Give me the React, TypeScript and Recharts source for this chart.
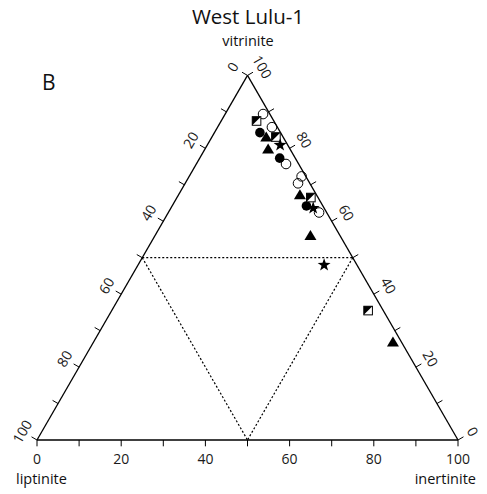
import {
  ScatterChart,
  Scatter,
  XAxis,
  YAxis,
  ReferenceLine,
  ReferenceDot,
} from "recharts";

const FONT = "'Open Sans', sans-serif";
const S = Math.sqrt(3) / 2; // height of unit equilateral triangle

// maceral composition, [vitrinite, inertinite, liptinite] in %
const openCircles = [
  [89.4, 9.0, 1.6],
  [85.8, 12.9, 1.3],
  [75.7, 21.3, 3.0],
  [72.3, 26.7, 1.0],
  [70.4, 26.8, 2.8],
  [62.4, 35.8, 1.8],
];
const filledCircles = [
  [84.3, 10.8, 4.9],
  [77.3, 19.0, 3.7],
  [64.2, 31.9, 3.9],
];
const triangles = [
  [83.1, 12.9, 4.0],
  [79.8, 15.0, 5.2],
  [67.3, 28.8, 3.9],
  [56.1, 36.9, 7.0],
  [26.9, 71.1, 2.0],
];
const halfSquares = [
  [87.5, 8.4, 4.1],
  [83.1, 15.2, 1.7],
  [66.5, 31.8, 1.7],
  [35.5, 60.9, 3.6],
];
const stars = [
  [80.9, 17.3, 1.8],
  [63.6, 33.8, 2.6],
  [48.0, 44.2, 7.8],
];

const tickSteps = [0, 10, 20, 30, 40, 50, 60, 70, 80, 90, 100];
const labelSteps = [0, 20, 40, 60, 80, 100];

// ternary -> cartesian (inertinite to the right, vitrinite up)
const toXY = ([vit, ine, lip]: number[]) => ({ x: ine + vit / 2, y: vit * S, vit, ine, lip });

// points on each edge
const bottomPt = (k: number) => ({ x: k, y: 0 }); // inertinite
const leftPt = (p: number) => ({ x: 50 - p / 2, y: (100 - p) * S }); // liptinite
const rightPt = (v: number) => ({ x: 100 - v / 2, y: v * S }); // vitrinite

const TICK = 1.5;
const LBL = 4.1;

function OpenCircle(p: any) {
  return <circle cx={p.cx} cy={p.cy} r={4.8} fill="none" stroke="#000" strokeWidth={1} />;
}
function FilledCircle(p: any) {
  return <circle cx={p.cx} cy={p.cy} r={4.8} fill="#000" />;
}
function Triangle(p: any) {
  const { cx, cy } = p;
  return <polygon points={`${cx},${cy - 5.5} ${cx + 6},${cy + 4.5} ${cx - 6},${cy + 4.5}`} fill="#000" />;
}
function HalfSquare(p: any) {
  const { cx, cy } = p;
  const h = 4.3;
  return (
    <g>
      <rect x={cx - h} y={cy - h} width={h * 2} height={h * 2} fill="#fff" stroke="#000" strokeWidth={1} />
      <polygon points={`${cx - h},${cy - h} ${cx + h},${cy - h} ${cx - h},${cy + h}`} fill="#000" />
    </g>
  );
}
function Star(p: any) {
  const { cx, cy } = p;
  const pts: string[] = [];
  for (let i = 0; i < 10; i++) {
    const r = i % 2 === 0 ? 6.8 : 2.7;
    const a = -Math.PI / 2 + (i * Math.PI) / 5;
    pts.push(`${cx + r * Math.cos(a)},${cy + r * Math.sin(a)}`);
  }
  return <polygon points={pts.join(" ")} fill="#000" />;
}

const tickLabel = (text: string, rot: number) => (p: any) => (
  <text
    x={p.cx}
    y={p.cy}
    textAnchor="middle"
    dominantBaseline="central"
    fontFamily={FONT}
    fontSize={14}
    fill="#1a1a1a"
    transform={rot ? `rotate(${rot} ${p.cx} ${p.cy})` : undefined}
  >
    {text}
  </text>
);

export default function App() {
  const edge = { stroke: "#000", strokeWidth: 1.3, ifOverflow: "visible" as const };
  const tick = { stroke: "#000", strokeWidth: 1, ifOverflow: "visible" as const };
  const dot = { stroke: "#000", strokeWidth: 1.2, strokeDasharray: "2 2", ifOverflow: "visible" as const };

  return (
    <div style={{ position: "absolute", left: 0, top: 0, width: 487, height: 494, background: "#fff" }}>
      <ScatterChart width={487} height={494} margin={{ top: 19, right: 29, bottom: 54, left: 37 }}>
        <XAxis type="number" dataKey="x" domain={[0, 100]} hide />
        <YAxis type="number" dataKey="y" domain={[0, 100]} hide />

        {/* triangle frame */}
        <ReferenceLine segment={[bottomPt(0), bottomPt(100)]} {...edge} />
        <ReferenceLine segment={[leftPt(0), leftPt(100)]} {...edge} />
        <ReferenceLine segment={[rightPt(0), rightPt(100)]} {...edge} />

        {/* dotted inner triangle */}
        <ReferenceLine segment={[leftPt(50), rightPt(50)]} {...dot} />
        <ReferenceLine segment={[leftPt(50), bottomPt(50)]} {...dot} />
        <ReferenceLine segment={[rightPt(50), bottomPt(50)]} {...dot} />

        {/* ticks */}
        {tickSteps.map((k) => {
          const b = bottomPt(k);
          const l = leftPt(k);
          const r = rightPt(k);
          return [
            <ReferenceLine key={`b${k}`} segment={[b, { x: b.x, y: -TICK }]} {...tick} />,
            <ReferenceLine key={`l${k}`} segment={[l, { x: l.x - TICK * S, y: l.y + TICK * 0.5 }]} {...tick} />,
            <ReferenceLine key={`r${k}`} segment={[r, { x: r.x + TICK * S, y: r.y + TICK * 0.5 }]} {...tick} />,
          ];
        })}

        {/* tick labels */}
        {labelSteps.map((k) => {
          const l = leftPt(k);
          const r = rightPt(k);
          return [
            <ReferenceDot key={`bl${k}`} x={k} y={-4.5} r={0} ifOverflow="visible" shape={tickLabel(String(k), 0)} />,
            <ReferenceDot
              key={`ll${k}`}
              x={l.x - LBL * S}
              y={l.y + LBL * 0.5}
              r={0}
              ifOverflow="visible"
              shape={tickLabel(String(k), -60)}
            />,
            <ReferenceDot
              key={`rl${k}`}
              x={r.x + LBL * S}
              y={r.y + LBL * 0.5}
              r={0}
              ifOverflow="visible"
              shape={tickLabel(String(k), 60)}
            />,
          ];
        })}

        <Scatter data={openCircles.map(toXY)} shape={OpenCircle} isAnimationActive={false} />
        <Scatter data={filledCircles.map(toXY)} shape={FilledCircle} isAnimationActive={false} />
        <Scatter data={triangles.map(toXY)} shape={Triangle} isAnimationActive={false} />
        <Scatter data={halfSquares.map(toXY)} shape={HalfSquare} isAnimationActive={false} />
        <Scatter data={stars.map(toXY)} shape={Star} isAnimationActive={false} />
      </ScatterChart>

      <svg
        width={487}
        height={494}
        style={{ position: "absolute", left: 0, top: 0, pointerEvents: "none" }}
        fontFamily={FONT}
      >
        <text x={248} y={24} textAnchor="middle" fontSize={20.5} fill="#111">
          West Lulu-1
        </text>
        <text x={248} y={46} textAnchor="middle" fontSize={14.5} fill="#111">
          vitrinite
        </text>
        <text x={42} y={90} fontSize={21} fill="#111">
          B
        </text>
        <text x={16} y={484} fontSize={14.5} fill="#111">
          liptinite
        </text>
        <text x={476} y={484} textAnchor="end" fontSize={14.5} fill="#111">
          inertinite
        </text>
      </svg>
    </div>
  );
}
